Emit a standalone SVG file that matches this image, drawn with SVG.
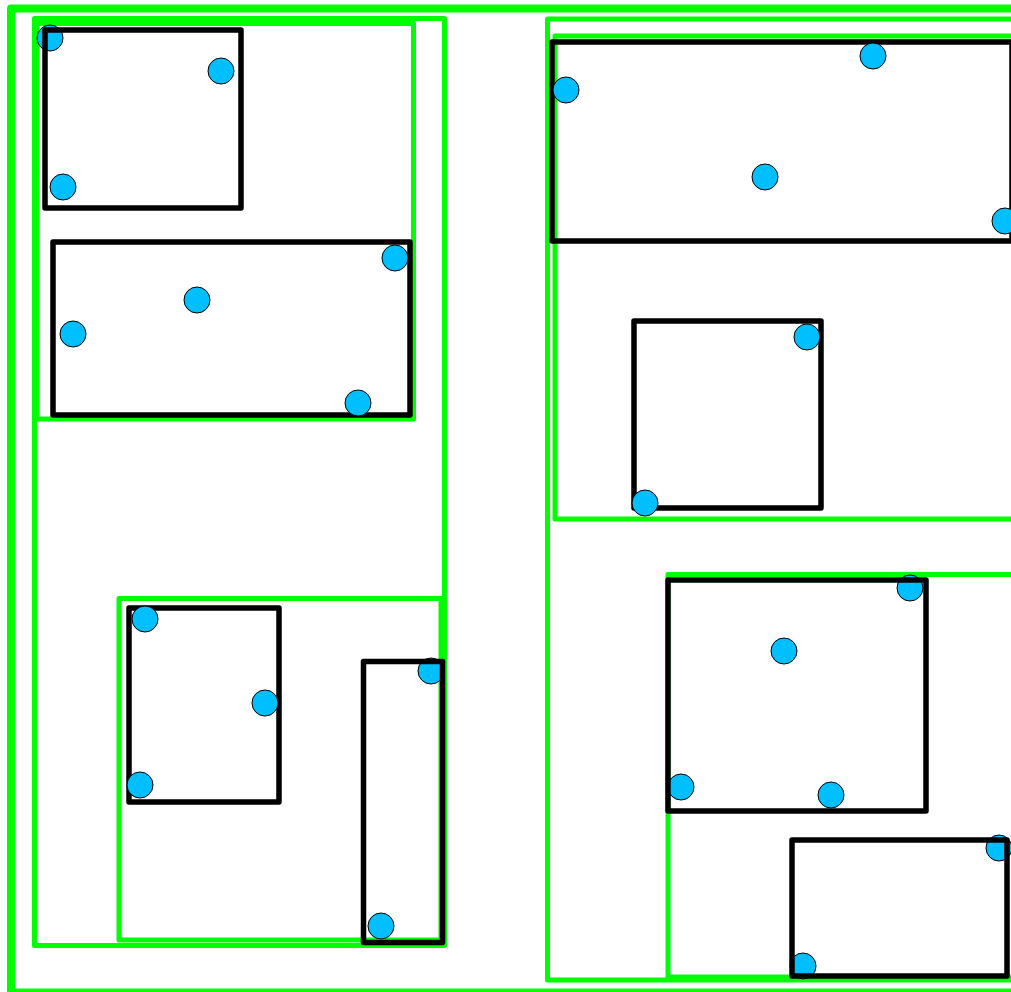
<svg xmlns="http://www.w3.org/2000/svg" width="1011" height="992" viewBox="0 0 1011 992">
<style>
.g0{fill:none;stroke:#00ff00;stroke-width:8;stroke-linejoin:round}
.g{fill:none;stroke:#00ff00;stroke-width:5;stroke-linejoin:round}
.leaf{fill:none;stroke:#000;stroke-width:5.5;stroke-linejoin:round}
.pt{fill:#00bfff;stroke:#000;stroke-width:1}
</style>
<rect width="1011" height="992" fill="#fff"/>
<g id="root"><rect class="g0" x="11" y="8.5" width="1030" height="984"/></g>
<g id="n-left"><rect class="g" x="34.5" y="18.5" width="410" height="927"/></g>
<g id="n-left-a"><rect class="g" x="37" y="23.5" width="376.5" height="395.5"/></g>
<g id="n-left-b"><rect class="g" x="119" y="598.5" width="322" height="341.5"/></g>
<g id="n-right"><rect class="g" x="547.5" y="19" width="500" height="961"/></g>
<g id="n-right-a"><rect class="g" x="555" y="36" width="490" height="483"/></g>
<g id="n-right-b"><rect class="g" x="668" y="574.5" width="380" height="402.5"/></g>
<g id="leaf-a"><circle class="pt" cx="50" cy="38" r="13"/><circle class="pt" cx="221" cy="71" r="13"/><circle class="pt" cx="63" cy="187" r="13"/>
<rect class="leaf" x="45" y="30" width="196" height="178"/></g>
<g id="leaf-b"><rect class="leaf" x="53" y="242" width="357" height="173"/>
<circle class="pt" cx="395" cy="258" r="13"/><circle class="pt" cx="197" cy="300" r="13"/><circle class="pt" cx="73" cy="334" r="13"/><circle class="pt" cx="358" cy="403" r="13"/></g>
<g id="leaf-c"><rect class="leaf" x="129" y="608" width="150" height="194"/>
<circle class="pt" cx="145" cy="619" r="13"/><circle class="pt" cx="265" cy="703" r="13"/><circle class="pt" cx="140" cy="785" r="13"/></g>
<g id="leaf-d"><circle class="pt" cx="431" cy="671" r="13"/><circle class="pt" cx="381" cy="926" r="13"/>
<rect class="leaf" x="363.5" y="661.5" width="79" height="281"/></g>
<g id="leaf-e"><rect class="leaf" x="552" y="42" width="460" height="199"/>
<circle class="pt" cx="566" cy="90" r="13"/><circle class="pt" cx="873" cy="56" r="13"/><circle class="pt" cx="765" cy="177" r="13"/><circle class="pt" cx="1005" cy="221" r="13"/></g>
<g id="leaf-f"><rect class="leaf" x="634" y="321" width="187" height="187"/>
<circle class="pt" cx="807" cy="337" r="13"/><circle class="pt" cx="645" cy="503" r="13"/></g>
<g id="leaf-g"><circle class="pt" cx="910" cy="588" r="13"/><circle class="pt" cx="784" cy="651" r="13"/><circle class="pt" cx="681" cy="787" r="13"/><circle class="pt" cx="831" cy="795" r="13"/>
<rect class="leaf" x="668" y="580" width="258" height="231"/></g>
<g id="leaf-h"><circle class="pt" cx="999" cy="848" r="13"/><circle class="pt" cx="803" cy="966" r="13"/>
<rect class="leaf" x="792" y="840" width="215" height="136"/></g>
<g id="connectors"></g>
</svg>
